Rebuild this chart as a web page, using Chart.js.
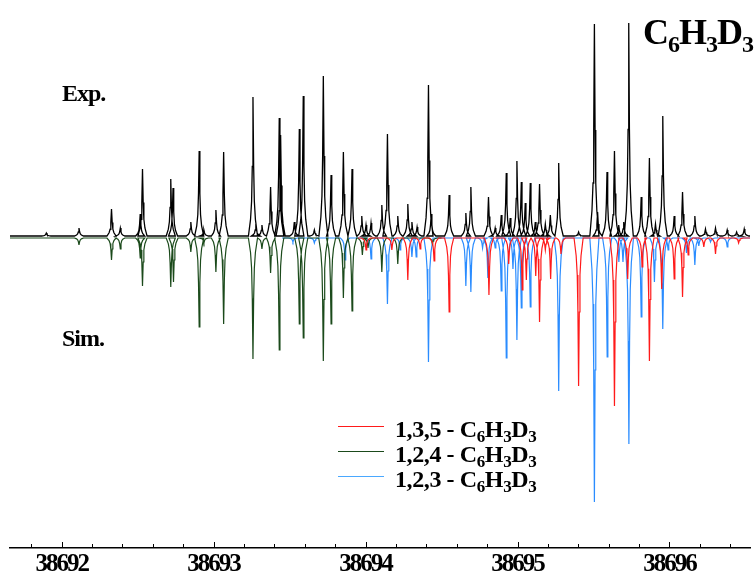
<!DOCTYPE html>
<html>
<head>
<meta charset="utf-8">
<script src="https://cdn.jsdelivr.net/npm/chart.js@4.4.1/dist/chart.umd.min.js"></script>
<style>
  body { margin: 0; background: #fff; }
  #wrap { position: relative; width: 755px; height: 575px; font-family: 'Liberation Serif', 'Times New Roman', serif; font-weight: bold; color: #000; }
  canvas { position: absolute; left: 0; top: 0; }
  .lbl { position: absolute; font-size: 24px; line-height: 1; letter-spacing: -1px; white-space: nowrap; }
  .leg { letter-spacing: -0.4px; }
  .lbl sub { font-size: 17px; vertical-align: -5px; line-height: 0; }
  #title { position: absolute; left: 643px; top: 14px; font-size: 36px; line-height: 1; letter-spacing: -1px; white-space: nowrap; }
  #title sub { font-size: 24px; vertical-align: -8px; line-height: 0; }
  .key { position: absolute; left: 338px; width: 46px; height: 0; border-top: 1.5px solid; }
</style>
</head>
<body>
<div id="wrap">
  <canvas id="spectrum" width="755" height="575"></canvas>
  <div id="title">C<sub>6</sub>H<sub>3</sub>D<sub>3</sub></div>
  <div class="lbl" style="left:62px; top:81px;">Exp.</div>
  <div class="lbl" style="left:62px; top:326px;">Sim.</div>
  <div class="key" style="top:426px; border-color:#ff1a1a;"></div>
  <div class="key" style="top:451px; border-color:#1b4a1b;"></div>
  <div class="key" style="top:476px; border-color:#4aa8ff;"></div>
  <div class="lbl leg" style="left:395px; top:417px;">1,3,5 - C<sub>6</sub>H<sub>3</sub>D<sub>3</sub></div>
  <div class="lbl leg" style="left:395px; top:442px;">1,2,4 - C<sub>6</sub>H<sub>3</sub>D<sub>3</sub></div>
  <div class="lbl leg" style="left:395px; top:467px;">1,2,3 - C<sub>6</sub>H<sub>3</sub>D<sub>3</sub></div>
</div>
<script>
// wavenumber range shown and the axis ticks
const xMin = 38691.66
const xMax = 38696.53
const majorTicks = [38692, 38693, 38694, 38695, 38696]
const minorTicks = [38691.8, 38692.2, 38692.4, 38692.6, 38692.8, 38693.2, 38693.4, 38693.6, 38693.8,
  38694.2, 38694.4, 38694.6, 38694.8, 38695.2, 38695.4, 38695.6, 38695.8, 38696.2, 38696.4]

// experimental spectrum, peak positions and heights (upwards)
const expPos = [38691.899, 38692.114, 38692.328, 38692.386, 38692.517, 38692.532, 38692.718, 38692.733,
  38692.850, 38692.905, 38692.936, 38693.015, 38693.066, 38693.259, 38693.278, 38693.318, 38693.375,
  38693.432, 38693.441, 38693.531, 38693.564, 38693.590, 38693.663, 38693.722, 38693.773, 38693.854,
  38693.911, 38693.975, 38694.003, 38694.036, 38694.107, 38694.144, 38694.212, 38694.278, 38694.305,
  38694.339, 38694.414, 38694.432, 38694.550, 38694.660, 38694.693, 38694.809, 38694.853, 38694.893,
  38694.926, 38694.952, 38694.996, 38695.025, 38695.051, 38695.084, 38695.117, 38695.145, 38695.183,
  38695.216, 38695.271, 38695.402, 38695.506, 38695.527, 38695.589, 38695.638, 38695.666, 38695.699,
  38695.732, 38695.814, 38695.868, 38695.908, 38695.956, 38696.031, 38696.086, 38696.167, 38696.237,
  38696.303, 38696.380, 38696.442, 38696.492]
const expInt = [3, 8, 27, 8, 22, 67, 57, 48,
  14, 85, 6, 26, 84, 139, 12, 11, 49,
  118, 101, 14, 107, 140, 6, 160, 61, 84,
  67, 20, 11, 13, 31, 102, 20, 32, 14,
  9, 151, 22, 41, 23, 49, 39, 8, 21,
  63, 18, 75, 54, 33, 53, 14, 52, 12,
  21, 73, 4, 212, 24, 64, 85, 11, 14,
  213, 39, 78, 12, 120, 20, 44, 20, 7,
  8, 6, 4, 7]
const expBase = 2

// simulated 1,3,5 - C6H3D3 (drawn downwards)
const sim135Pos = [38694.003, 38694.173, 38694.278, 38694.359, 38694.451, 38694.550, 38694.812, 38694.942,
  38695.031, 38695.058, 38695.120, 38695.145, 38695.183, 38695.218, 38695.286, 38695.402, 38695.638,
  38695.725, 38695.820, 38695.868, 38695.949, 38696.031, 38696.086, 38696.123, 38696.226, 38696.303, 38696.455]
const sim135Int = [-12, -12, -42, -11, -23, -74, -57, -26,
  -52, -42, -38, -84, -12, -41, -16, -148, -168,
  -41, -29, -123, -51, -41, -59, -17, -9, -16, -5]
const sim135Range = [38693.95, 38696.53]

// simulated 1,2,4 - C6H3D3
const sim124Pos = [38692.114, 38692.328, 38692.386, 38692.517, 38692.532, 38692.718, 38692.736, 38692.850,
  38692.905, 38692.936, 38693.015, 38693.066, 38693.259, 38693.318, 38693.375, 38693.432, 38693.564,
  38693.590, 38693.722, 38693.773, 38693.854, 38693.911, 38693.979, 38694.016, 38694.107, 38694.212, 38694.440]
const sim124Int = [-7, -22, -11, -20, -48, -49, -44, -14,
  -89, -5, -34, -86, -121, -11, -35, -112, -86,
  -100, -123, -86, -60, -73, -17, -10, -34, -26, -6]
const sim124Range = [38691.66, 38694.50]

// simulated 1,2,3 - C6H3D3
const sim123Pos = [38693.522, 38693.663, 38693.865, 38694.036, 38694.144, 38694.227, 38694.305, 38694.333,
  38694.414, 38694.660, 38694.693, 38694.770, 38694.805, 38694.853, 38694.893, 38694.926, 38694.970,
  38694.996, 38695.025, 38695.084, 38695.271, 38695.506, 38695.590, 38695.667, 38695.694, 38695.733,
  38695.814, 38695.901, 38695.956, 38695.991, 38696.112, 38696.167, 38696.193, 38696.270, 38696.380]
const sim123Int = [-4, -5, -22, -21, -66, -12, -19, -19,
  -124, -48, -54, -10, -40, -10, -53, -120, -31,
  -102, -70, -69, -153, -264, -119, -24, -24, -206,
  -79, -44, -91, -12, -15, -27, -8, -4, -9]
const sim123Range = [38693.45, 38696.53]

// line shape used to draw every peak (offset in cm-1, fraction of the peak height)
const shapeDx = [-0.03, -0.016, -0.009, -0.0045, 0, 0.0045, 0.009, 0.016, 0.03]
const shapeFr = [0, 0.12, 0.25, 0.5, 1, 0.5, 0.25, 0.12, 0]

function peakLine(pos, amp, range, base) {
  const pts = [{x: range[0], y: base}]
  pos.forEach((p, i) => {
    shapeDx.forEach((d, k) => pts.push({x: p + d, y: base + amp[i] * shapeFr[k]}))
  })
  pts.push({x: range[1], y: base})
  return pts
}

function lineSet(label, pts, color, width, order) {
  return {
    label: label,
    data: pts,
    borderColor: color,
    backgroundColor: color,
    borderWidth: width,
    pointRadius: 0,
    tension: 0,
    fill: false,
    order: order
  }
}

const tickMarks = {
  id: 'tickMarks',
  beforeDraw(chart) {
    chart.ctx.letterSpacing = '-2px'
  },
  afterDraw(chart) {
    const ctx = chart.ctx
    const x = chart.scales.x
    const y0 = x.top
    ctx.save()
    ctx.strokeStyle = '#000'
    ctx.lineWidth = 1
    ctx.beginPath()
    minorTicks.forEach(v => {
      const px = Math.round(x.getPixelForValue(v)) + 0.5
      ctx.moveTo(px, y0); ctx.lineTo(px, y0 - 4)
    })
    majorTicks.forEach(v => {
      const px = Math.round(x.getPixelForValue(v)) + 0.5
      ctx.moveTo(px, y0); ctx.lineTo(px, y0 - 6)
    })
    ctx.stroke()
    ctx.restore()
  }
}

new Chart(document.getElementById('spectrum').getContext('2d'), {
  type: 'line',
  data: {
    datasets: [
      lineSet('Exp.', peakLine(expPos, expInt, [xMin, xMax], expBase), '#000000', 1.3, 0),
      lineSet('1,3,5 - C6H3D3', peakLine(sim135Pos, sim135Int, sim135Range, 0), '#ff1a1a', 1.2, 1),
      lineSet('1,2,4 - C6H3D3', peakLine(sim124Pos, sim124Int, sim124Range, 0), '#1b4a1b', 1.2, 2),
      lineSet('1,2,3 - C6H3D3', peakLine(sim123Pos, sim123Int, sim123Range, 0), '#2a8cff', 1.2, 3)
    ]
  },
  options: {
    responsive: false,
    animation: false,
    devicePixelRatio: 1,
    events: [],
    layout: { padding: { left: 10, right: 5, top: 0, bottom: 0 } },
    plugins: { legend: { display: false }, tooltip: { enabled: false } },
    scales: {
      x: {
        type: 'linear',
        min: xMin,
        max: xMax,
        afterBuildTicks: s => { s.ticks = majorTicks.map(v => ({value: v})) },
        afterFit: s => { s.height = 27 },
        grid: { display: false, drawTicks: false },
        border: { display: true, color: '#000', width: 1.5 },
        ticks: {
          color: '#000',
          padding: 2,
          maxRotation: 0,
          font: { family: "'Liberation Serif', 'Times New Roman', serif", weight: 'bold', size: 25 },
          callback: v => String(v)
        }
      },
      y: {
        display: false,
        min: -310,
        max: 238
      }
    }
  },
  plugins: [tickMarks]
})
</script>
</body>
</html>
